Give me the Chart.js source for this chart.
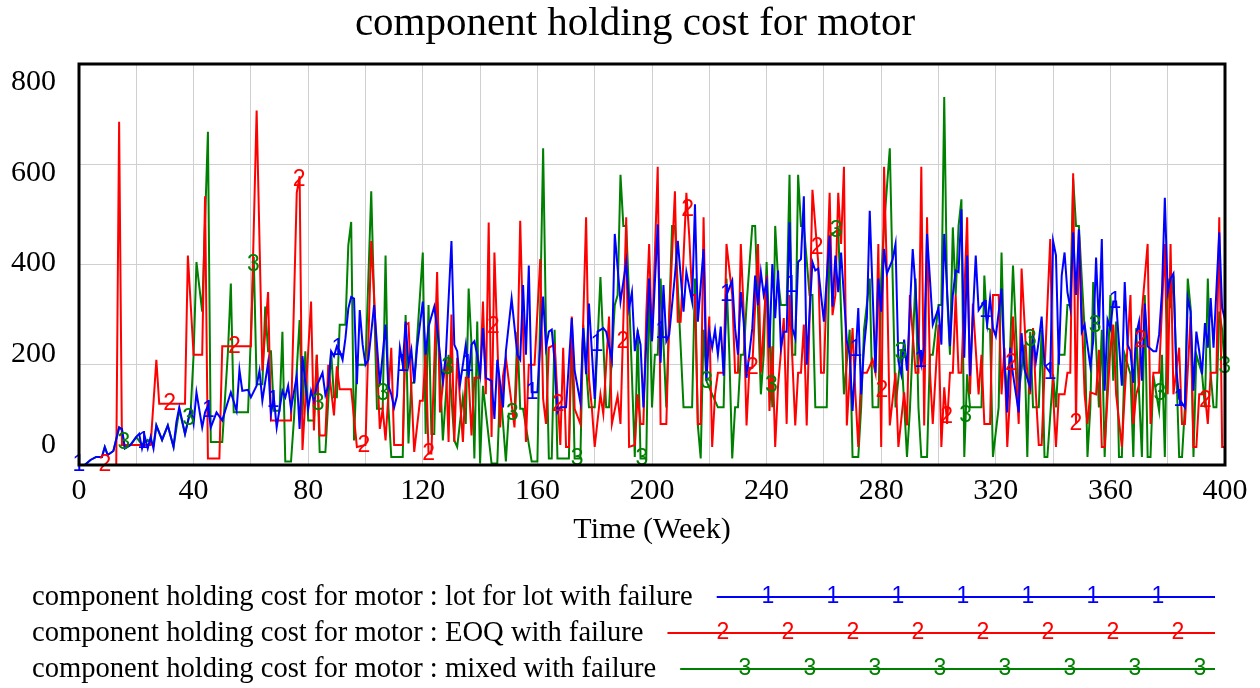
<!DOCTYPE html>
<html>
<head>
<meta charset="utf-8">
<title>component holding cost for motor</title>
<script src="https://cdn.jsdelivr.net/npm/chart.js@4/dist/chart.umd.min.js"></script>
<style>
  html, body { margin: 0; padding: 0; background: #fff; }
  canvas { display: block; }
</style>
</head>
<body>
<canvas id="chart" width="1260" height="688"></canvas>
<script>
// ---- data (week, cost) ----
const chartTitle = 'component holding cost for motor';
const xAxisTitle = 'Time (Week)';
const seriesNames = [
  'component holding cost for motor : lot for lot with failure',
  'component holding cost for motor : EOQ with failure',
  'component holding cost for motor : mixed with failure'
];
const yTickValues = [0, 200, 400, 600, 800];
const xTickLabels = [0, 40, 80, 120, 160, 200, 240, 280, 320, 360, 400];

// lot for lot with failure
const lotWeeks = [
  0, 2, 4, 6, 8, 9, 10, 12, 14, 15,
  16, 18, 20, 21, 22, 23, 24, 25, 26, 27,
  29, 31, 33, 34, 35, 37, 39, 40, 41, 43,
  44, 45, 46, 48, 50, 51, 53, 55, 56, 57,
  59, 60, 62, 63, 64, 66, 67, 68, 69, 71,
  72, 73, 74, 76, 77, 78, 80, 81, 82, 83,
  85, 86, 87, 88, 89, 90, 91, 92, 93, 94,
  95, 96, 97, 98, 99, 100, 101, 103, 105, 107,
  108, 109, 110, 111, 112, 113, 114, 115, 116, 117,
  118, 120, 121, 122, 124, 125, 127, 128, 130, 131,
  132, 133, 135, 136, 137, 138, 139, 140, 141, 142,
  144, 145, 146, 148, 149, 151, 153, 154, 155, 156,
  157, 158, 160, 162, 163, 164, 165, 166, 167, 168,
  170, 172, 173, 175, 176, 177, 178, 180, 181, 183,
  184, 186, 187, 189, 191, 192, 193, 194, 195, 196,
  197, 199, 200, 202, 203, 204, 205, 206, 208, 209,
  210, 211, 212, 214, 215, 216, 218, 219, 220, 221,
  222, 223, 224, 225, 226, 228, 229, 230, 231, 232,
  233, 235, 236, 237, 238, 239, 240, 241, 242, 243,
  244, 245, 246, 247, 248, 249, 250, 251, 252, 253,
  254, 256, 257, 258, 260, 261, 262, 263, 264, 265,
  266, 268, 269, 270, 272, 273, 274, 275, 276, 278,
  279, 280, 281, 282, 284, 285, 286, 287, 288, 289,
  291, 292, 293, 294, 295, 296, 297, 298, 300, 301,
  302, 304, 305, 306, 307, 308, 309, 310, 311, 313,
  314, 316, 317, 318, 319, 320, 322, 323, 324, 325,
  326, 328, 329, 330, 332, 333, 334, 335, 336, 337,
  339, 340, 341, 342, 343, 344, 345, 346, 347, 348,
  349, 350, 351, 353, 354, 355, 356, 357, 358, 359,
  360, 361, 362, 364, 365, 366, 367, 368, 369, 370,
  371, 372, 373, 375, 376, 377, 378, 379, 380, 381,
  382, 383, 384, 386, 387, 388, 389, 390, 391, 392,
  393, 394, 395, 396, 398, 399, 400
];
const lotCost = [
  0, 0, 10, 16, 16, 36, 20, 28, 75, 72,
  33, 40, 56, 62, 33, 56, 33, 56, 33, 79,
  50, 79, 36, 86, 115, 62, 112, 82, 145, 75,
  105, 118, 75, 105, 89, 108, 145, 108, 190, 148,
  150, 135, 158, 188, 128, 204, 102, 135, 75, 148,
  135, 158, 112, 178, 72, 217, 112, 148, 128, 158,
  184, 140, 158, 227, 217, 237, 227, 210, 253, 312,
  335, 332, 161, 309, 240, 200, 210, 319, 161, 280,
  158, 141, 115, 138, 234, 200, 286, 200, 230, 164,
  234, 326, 220, 276, 316, 273, 168, 214, 447, 240,
  227, 161, 240, 174, 240, 247, 220, 181, 273, 174,
  168, 92, 210, 115, 227, 332, 220, 210, 359, 220,
  398, 145, 145, 336, 234, 266, 270, 207, 105, 115,
  115, 293, 188, 125, 273, 181, 322, 132, 266, 273,
  266, 210, 461, 326, 405, 313, 345, 227, 266, 240,
  115, 372, 247, 480, 204, 359, 247, 260, 378, 447,
  378, 306, 385, 326, 520, 286, 431, 168, 266, 234,
  270, 220, 276, 178, 339, 368, 273, 220, 345, 286,
  174, 273, 378, 319, 385, 339, 365, 234, 401, 293,
  388, 234, 266, 266, 484, 273, 253, 405, 411, 536,
  200, 405, 388, 392, 286, 372, 457, 316, 418, 345,
  424, 247, 220, 108, 313, 141, 234, 293, 507, 184,
  372, 306, 431, 382, 410, 441, 207, 181, 250, 188,
  431, 352, 240, 200, 237, 461, 372, 280, 313, 240,
  461, 237, 339, 388, 385, 510, 214, 418, 178, 418,
  309, 326, 280, 333, 273, 257, 352, 207, 105, 234,
  181, 105, 263, 191, 155, 260, 207, 247, 296, 200,
  184, 447, 418, 200, 378, 424, 345, 313, 464, 339,
  470, 266, 280, 197, 247, 414, 273, 451, 148, 290,
  273, 326, 326, 158, 365, 240, 227, 164, 260, 286,
  168, 322, 237, 227, 227, 260, 345, 533, 345, 372,
  382, 194, 132, 115, 333, 306, 148, 266, 227, 181,
  283, 234, 333, 234, 464, 313, 290
];

// EOQ with failure
const eoqWeeks = [
  0, 13, 14, 15, 25, 27, 28, 37, 38, 40,
  43, 44, 45, 49, 50, 60, 62, 64, 66, 67,
  74, 76, 77, 78, 81, 82, 83, 84, 86, 87,
  89, 90, 91, 95, 97, 100, 102, 103, 105, 106,
  107, 109, 110, 113, 114, 115, 117, 119, 120, 121,
  122, 123, 125, 126, 128, 129, 130, 131, 132, 134,
  135, 136, 137, 138, 140, 141, 142, 143, 144, 145,
  147, 148, 149, 152, 153, 154, 156, 157, 159, 161,
  162, 163, 164, 166, 168, 169, 170, 171, 172, 173,
  175, 177, 178, 179, 180, 182, 183, 185, 186, 188,
  189, 191, 192, 194, 195, 196, 197, 198, 199, 200,
  202, 203, 205, 206, 208, 209, 210, 212, 213, 214,
  215, 216, 217, 218, 219, 220, 221, 222, 223, 225,
  226, 228, 229, 230, 231, 232, 233, 234, 235, 237,
  238, 240, 241, 242, 243, 244, 246, 247, 248, 250,
  251, 252, 253, 254, 255, 256, 258, 259, 260, 262,
  263, 264, 265, 266, 267, 268, 270, 271, 272, 273,
  275, 277, 278, 279, 280, 281, 282, 283, 285, 286,
  288, 289, 290, 292, 293, 294, 295, 296, 297, 298,
  300, 301, 302, 303, 304, 305, 306, 307, 308, 310,
  311, 312, 314, 315, 316, 318, 319, 321, 322, 323,
  324, 325, 326, 328, 329, 331, 332, 333, 334, 335,
  336, 337, 339, 340, 341, 342, 344, 345, 346, 347,
  348, 349, 351, 352, 353, 355, 356, 357, 358, 360,
  361, 362, 364, 365, 367, 368, 369, 370, 371, 373,
  374, 375, 377, 379, 380, 381, 382, 384, 385, 386,
  388, 389, 390, 391, 393, 394, 395, 397, 398, 399,
  400
];
const eoqCost = [
  0, 0, 685, 40, 40, 210, 122, 122, 418, 220,
  220, 536, 13, 13, 237, 237, 707, 188, 345, 89,
  89, 543, 576, 30, 326, 69, 220, 59, 59, 200,
  99, 197, 151, 151, 36, 40, 447, 339, 72, 112,
  49, 234, 40, 40, 280, 283, 26, 128, 128, 227,
  23, 23, 385, 105, 214, 46, 300, 46, 214, 46,
  174, 174, 59, 174, 174, 326, 141, 484, 56, 424,
  75, 178, 214, 75, 204, 487, 46, 200, 200, 411,
  132, 82, 234, 240, 40, 234, 36, 36, 296, 112,
  82, 494, 171, 115, 36, 141, 102, 296, 82, 138,
  82, 494, 36, 40, 141, 82, 82, 300, 441, 247,
  595, 82, 82, 293, 546, 286, 286, 543, 457, 339,
  339, 82, 82, 494, 188, 296, 36, 141, 184, 184,
  441, 339, 184, 184, 441, 306, 79, 194, 194, 441,
  184, 378, 108, 237, 36, 158, 293, 82, 339, 79,
  184, 184, 280, 79, 293, 549, 405, 184, 184, 543,
  299, 339, 543, 441, 595, 79, 273, 141, 36, 184,
  184, 210, 184, 441, 36, 595, 378, 79, 184, 36,
  145, 79, 339, 184, 184, 595, 79, 494, 188, 82,
  280, 36, 155, 82, 184, 184, 339, 184, 184, 494,
  141, 322, 141, 220, 82, 82, 339, 339, 141, 234,
  36, 141, 296, 82, 392, 181, 141, 273, 141, 40,
  40, 184, 451, 141, 36, 141, 141, 184, 184, 582,
  82, 470, 141, 82, 145, 141, 230, 36, 36, 234,
  280, 141, 36, 141, 339, 82, 141, 160, 306, 441,
  82, 184, 184, 441, 141, 441, 141, 234, 82, 82,
  296, 36, 36, 141, 141, 82, 184, 184, 494, 36,
  36
];

// mixed with failure
const mixedWeeks = [
  0, 2, 4, 6, 8, 9, 10, 12, 14, 15,
  16, 18, 20, 22, 24, 26, 27, 29, 31, 33,
  35, 37, 39, 40, 41, 43, 45, 46, 50, 52,
  53, 54, 59, 61, 62, 64, 65, 66, 67, 68,
  70, 71, 72, 74, 75, 77, 78, 79, 80, 82,
  83, 84, 86, 88, 89, 90, 91, 93, 94, 95,
  96, 97, 100, 102, 104, 106, 107, 108, 109, 113,
  114, 115, 116, 117, 120, 121, 122, 123, 124, 125,
  127, 129, 131, 132, 134, 135, 136, 137, 138, 139,
  140, 141, 144, 146, 147, 149, 150, 152, 153, 154,
  155, 156, 158, 160, 162, 163, 164, 165, 166, 167,
  171, 172, 173, 175, 176, 178, 180, 182, 184, 185,
  187, 188, 189, 190, 191, 192, 194, 195, 196, 198,
  199, 200, 201, 202, 203, 205, 207, 208, 211, 214,
  215, 216, 217, 218, 219, 221, 223, 225, 226, 227,
  228, 229, 230, 231, 232, 233, 235, 236, 238, 239,
  240, 242, 243, 244, 245, 247, 248, 249, 250, 251,
  252, 253, 255, 256, 257, 261, 262, 265, 267, 269,
  270, 272, 273, 274, 276, 277, 279, 280, 281, 283,
  284, 285, 287, 289, 290, 292, 293, 294, 296, 297,
  298, 300, 301, 302, 303, 304, 305, 306, 307, 308,
  309, 310, 311, 315, 316, 317, 318, 319, 321, 322,
  323, 324, 325, 326, 327, 328, 330, 331, 332, 333,
  335, 336, 337, 338, 340, 341, 342, 344, 345, 346,
  347, 348, 349, 351, 352, 353, 354, 356, 357, 358,
  360, 361, 362, 363, 364, 365, 367, 368, 369, 371,
  372, 373, 374, 375, 377, 378, 379, 380, 381, 382,
  384, 385, 386, 387, 388, 389, 390, 392, 393, 394,
  395, 396, 397, 398, 399, 400
];
const mixedCost = [
  0, 0, 10, 16, 16, 36, 20, 28, 75, 70,
  33, 40, 56, 40, 50, 40, 79, 50, 79, 36,
  110, 62, 110, 220, 405, 306, 665, 46, 46, 227,
  362, 105, 105, 415, 161, 161, 316, 227, 227, 108,
  108, 266, 7, 7, 89, 289, 100, 227, 89, 89,
  220, 26, 26, 227, 135, 135, 280, 280, 438, 485,
  49, 200, 200, 546, 112, 112, 418, 115, 16, 16,
  299, 43, 164, 164, 424, 62, 319, 62, 62, 326,
  49, 220, 49, 36, 135, 82, 352, 240, 13, 286,
  3, 158, 3, 3, 161, 7, 102, 102, 266, 112,
  112, 76, 7, 7, 632, 273, 13, 13, 270, 13,
  13, 273, 13, 13, 280, 115, 115, 375, 115, 115,
  319, 339, 579, 477, 477, 339, 16, 270, 13, 13,
  372, 115, 220, 220, 372, 115, 477, 477, 115, 115,
  372, 79, 13, 270, 168, 141, 115, 115, 372, 220,
  13, 115, 115, 220, 220, 319, 477, 477, 141, 220,
  405, 115, 477, 372, 319, 319, 579, 220, 220, 579,
  477, 477, 339, 339, 115, 115, 457, 470, 141, 270,
  16, 16, 115, 270, 372, 115, 115, 372, 477, 632,
  372, 115, 230, 16, 108, 372, 115, 16, 16, 220,
  220, 319, 319, 734, 339, 220, 474, 339, 477, 530,
  16, 181, 115, 115, 378, 273, 270, 16, 115, 424,
  207, 141, 230, 398, 273, 141, 240, 16, 266, 115,
  115, 270, 16, 16, 181, 115, 220, 220, 319, 319,
  572, 477, 477, 270, 16, 115, 365, 115, 270, 16,
  339, 168, 286, 16, 16, 220, 181, 16, 273, 16,
  339, 16, 16, 178, 108, 220, 16, 372, 313, 378,
  16, 16, 115, 372, 313, 16, 220, 181, 115, 372,
  181, 115, 115, 306, 270, 188
];

// ---- look ----
const COLORS = ['#0000ff', '#ff0000', '#008000'];
const SERIF = "'Liberation Serif', 'Times New Roman', serif";
const SANS = "'Liberation Sans', Arial, sans-serif";
const GRID = '#d0d0d0';

// Vensim puts a series number on each line every ~22.6 weeks
const MARKER_STEP = 22.6;
const MARKER_START = [0, 9, 15.7];

function toPoints(weeks, values) {
  return weeks.map((w, i) => ({ x: w, y: values[i] }));
}

// value of a polyline at week t (for placing the number markers)
function valueAt(points, t) {
  for (let i = 0; i < points.length - 1; i++) {
    const a = points[i], b = points[i + 1];
    if (t >= a.x && t <= b.x) {
      const f = (t - a.x) / (b.x - a.x || 1);
      return a.y + f * (b.y - a.y);
    }
  }
  return points[points.length - 1].y;
}

const vensimDecor = {
  id: 'vensimDecor',
  afterDatasetsDraw(chart) {
    const { ctx, scales: { x, y } } = chart;
    ctx.save();
    ctx.font = '23px ' + SANS;
    ctx.textAlign = 'center';
    ctx.textBaseline = 'middle';
    chart.data.datasets.forEach((ds, i) => {
      ctx.fillStyle = ds.borderColor;
      for (let t = MARKER_START[i]; t <= x.max + 0.01; t += MARKER_STEP) {
        const v = valueAt(ds.data, t);
        ctx.fillText(String(i + 1), x.getPixelForValue(t), y.getPixelForValue(v));
      }
    });
    ctx.restore();
  },
  afterDraw(chart) {
    const { ctx, chartArea: a, scales: { y } } = chart;
    ctx.save();

    // heavy frame round the plot
    ctx.strokeStyle = '#000';
    ctx.lineWidth = 3;
    ctx.strokeRect(a.left, a.top, a.right - a.left, a.bottom - a.top);

    ctx.fillStyle = '#000';
    // title
    ctx.font = '41px ' + SERIF;
    ctx.textAlign = 'center';
    ctx.textBaseline = 'alphabetic';
    ctx.fillText(chartTitle, 635, 35);

    // x axis title
    ctx.font = '30px ' + SERIF;
    ctx.fillText(xAxisTitle, (a.left + a.right) / 2, 538);

    // y labels: Vensim spreads them between top+18 and bottom-20
    ctx.textAlign = 'right';
    ctx.textBaseline = 'middle';
    const h = a.bottom - a.top;
    yTickValues.forEach(v => {
      const frac = (y.max - v) / (y.max - y.min);
      ctx.fillText(String(v), 56, a.top + 18 + frac * (h - 38));
    });

    // legend
    const rows = [597, 633, 669];
    const firstMarker = [768, 723, 745];
    seriesNames.forEach((name, i) => {
      const ly = rows[i];
      ctx.font = '28.6px ' + SERIF;
      ctx.textAlign = 'left';
      ctx.textBaseline = 'alphabetic';
      ctx.fillStyle = '#000';
      ctx.fillText(name, 32, ly + 8);
      const w = ctx.measureText(name).width;
      const x0 = 32 + w + 24, x1 = 1215;
      ctx.strokeStyle = COLORS[i];
      ctx.lineWidth = 2;
      ctx.beginPath();
      ctx.moveTo(x0, ly);
      ctx.lineTo(x1, ly);
      ctx.stroke();
      ctx.font = '23px ' + SANS;
      ctx.textAlign = 'center';
      ctx.textBaseline = 'middle';
      ctx.fillStyle = COLORS[i];
      for (let mx = firstMarker[i]; mx <= 1205; mx += 65) {
        ctx.fillText(String(i + 1), mx, ly);
      }
    });
    ctx.restore();
  }
};

new Chart(document.getElementById('chart'), {
  type: 'line',
  data: {
    datasets: [
      { label: seriesNames[0], data: toPoints(lotWeeks, lotCost), borderColor: COLORS[0] },
      { label: seriesNames[1], data: toPoints(eoqWeeks, eoqCost), borderColor: COLORS[1] },
      { label: seriesNames[2], data: toPoints(mixedWeeks, mixedCost), borderColor: COLORS[2] }
    ]
  },
  options: {
    responsive: false,
    animation: false,
    devicePixelRatio: 1,
    layout: { padding: { top: 64, right: 35, bottom: 0, left: 0 } },
    elements: {
      line: { borderWidth: 2, tension: 0, fill: false },
      point: { radius: 0, hoverRadius: 0 }
    },
    scales: {
      x: {
        type: 'linear',
        min: 0,
        max: 400,
        afterFit(scale) { scale.height = 223; },
        afterBuildTicks(scale) {
          const ticks = [];
          for (let v = scale.min; v <= scale.max; v += 20) ticks.push({ value: v });
          scale.ticks = ticks;
        },
        ticks: {
          autoSkip: false,
          maxRotation: 0,
          padding: 8,
          color: '#000',
          font: { family: SERIF, size: 30 },
          callback: v => (xTickLabels.includes(v) ? String(v) : '')
        },
        grid: { color: GRID, lineWidth: 1, drawTicks: false },
        border: { display: false }
      },
      y: {
        min: 0,
        max: 800,
        afterFit(scale) { scale.width = 79; },
        ticks: { stepSize: 200, display: false },
        grid: { color: GRID, lineWidth: 1, drawTicks: false },
        border: { display: false }
      }
    },
    plugins: {
      legend: { display: false },
      tooltip: { enabled: false },
      title: { display: false }
    }
  },
  plugins: [vensimDecor]
});
</script>
</body>
</html>
